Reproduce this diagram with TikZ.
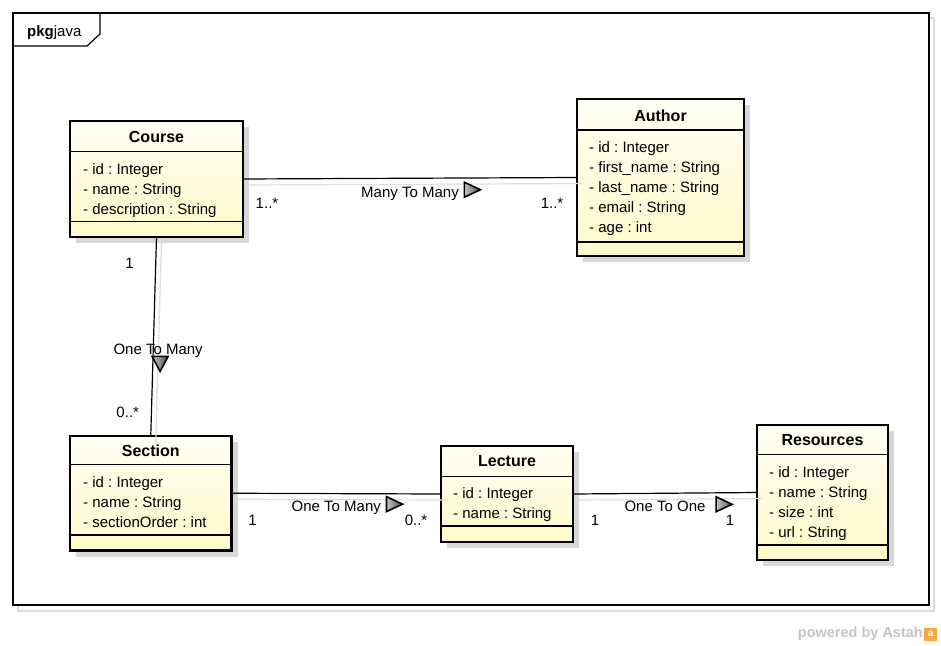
\documentclass[tikz,border=0pt]{standalone}
\usepackage{fontspec}
\setmainfont{Liberation Sans}
\usetikzlibrary{positioning,shadows}
\frenchspacing

\definecolor{classtop}{RGB}{255,255,243}
\definecolor{classbottom}{RGB}{255,250,202}
\definecolor{shadowgray}{RGB}{216,216,216}
\definecolor{linkshadow}{RGB}{222,222,222}
\definecolor{astahgray}{RGB}{196,196,196}
\definecolor{astahorange}{RGB}{248,168,64}

\newcommand{\umlfont}{\fontsize{15}{20}\selectfont\frenchspacing}

\tikzstyle{umlclass} = [draw, line width=2.5pt, outer sep=0pt, inner sep=0pt, anchor=north west, top color=classtop, bottom color=classbottom, drop shadow={shadow xshift=6pt, shadow yshift=-6pt, fill=shadowgray, opacity=1}]
\tikzstyle{ctitle} = [font=\fontsize{16}{20}\selectfont\bfseries]
\tikzstyle{cattrs} = [font=\umlfont, align=left, anchor=north west, inner sep=0pt]
\tikzstyle{compline} = [line width=1.2pt]
\tikzstyle{frame} = [line width=1.2pt]
\tikzstyle{assoc} = [line width=1.2pt]
\tikzstyle{assoc_shadow} = [line width=1.2pt, linkshadow, transform canvas={shift={(5pt,-6pt)}}]
\tikzstyle{alabel} = [font=\umlfont, inner sep=0pt, anchor=base]
\tikzstyle{mult} = [font=\umlfont, inner sep=0pt, anchor=base]
\tikzstyle{navtri} = [draw, line width=1.6pt, line join=miter, left color=gray!45, right color=black!70]

\begin{document}
\begin{tikzpicture}[x=1pt, y=-1pt]
    \useasboundingbox (0,0) rectangle (941,645);

    % package frame
    \draw[linkshadow, line width=1.2pt] (18,18) rectangle (934,611);
    \draw[frame, fill=white] (13,13) rectangle (929,605);
    \draw[frame] (100,13) -- (100,34) -- (87,46) -- (13,46);
    \node[font=\umlfont, anchor=base west, inner sep=0pt] (pkg) at (27,36) {\textbf{pkg}java};

    % classes
    \node[umlclass, minimum width=173pt, minimum height=116pt] (course) at (70,121) {};
    \draw[compline] ([yshift=-30.5pt]course.north west) -- ([yshift=-30.5pt]course.north east);
    \draw[compline] ([yshift=-100.5pt]course.north west) -- ([yshift=-100.5pt]course.north east);
    \node[ctitle] (course_title) at ([yshift=-15.5pt]course.north) {Course};
    \node[cattrs] (course_attrs) at ([xshift=13pt, yshift=-42pt]course.north west) {- id : Integer\\- name : String\\- description : String};

    \node[umlclass, minimum width=167pt, minimum height=157pt] (author) at (577,99) {};
    \draw[compline] ([yshift=-31pt]author.north west) -- ([yshift=-31pt]author.north east);
    \draw[compline] ([yshift=-143pt]author.north west) -- ([yshift=-143pt]author.north east);
    \node[ctitle] (author_title) at ([yshift=-17pt]author.north) {Author};
    \node[cattrs] (author_attrs) at ([xshift=12pt, yshift=-42.5pt]author.north west) {- id : Integer\\- first\_name : String\\- last\_name : String\\- email : String\\- age : int};

    \node[umlclass, minimum width=161.5pt, minimum height=114.5pt] (section) at (70,436) {};
    \draw[compline] ([yshift=-28.5pt]section.north west) -- ([yshift=-28.5pt]section.north east);
    \draw[compline] ([yshift=-99pt]section.north west) -- ([yshift=-99pt]section.north east);
    \node[ctitle] (section_title) at ([yshift=-15pt]section.north) {Section};
    \node[cattrs] (section_attrs) at ([xshift=13pt, yshift=-40pt]section.north west) {- id : Integer\\- name : String\\- sectionOrder : int};

    \node[umlclass, minimum width=132pt, minimum height=96pt] (lecture) at (441,446) {};
    \draw[compline] ([yshift=-30.5pt]lecture.north west) -- ([yshift=-30.5pt]lecture.north east);
    \draw[compline] ([yshift=-80pt]lecture.north west) -- ([yshift=-80pt]lecture.north east);
    \node[ctitle] (lecture_title) at ([yshift=-15.5pt]lecture.north) {Lecture};
    \node[cattrs] (lecture_attrs) at ([xshift=12pt, yshift=-41pt]lecture.north west) {- id : Integer\\- name : String};

    \node[umlclass, minimum width=131pt, minimum height=135pt] (resources) at (757,425) {};
    \draw[compline] ([yshift=-29.5pt]resources.north west) -- ([yshift=-29.5pt]resources.north east);
    \draw[compline] ([yshift=-120pt]resources.north west) -- ([yshift=-120pt]resources.north east);
    \node[ctitle] (resources_title) at ([yshift=-15pt]resources.north) {Resources};
    \node[cattrs] (resources_attrs) at ([xshift=12pt, yshift=-41.5pt]resources.north west) {- id : Integer\\- name : String\\- size : int\\- url : String};

    % associations
    \draw[assoc_shadow] (course.east) -- (author.west);
    \draw[assoc_shadow] (course.south) -- (section.north);
    \draw[assoc_shadow] (section.east) -- (lecture.west);
    \draw[assoc_shadow] (lecture.east) -- (resources.west);

    \draw[assoc] (course.east) -- node[alabel, midway, yshift=-19pt] (ca_label) {Many To Many} (author.west);
    \draw[assoc] (course.south) -- node[alabel, pos=0.59, xshift=5pt] (cs_label) {One To Many} (section.north);
    \draw[assoc] (section.east) -- node[alabel, midway, yshift=-18pt] (sl_label) {One To Many} (lecture.west);
    \draw[assoc] (lecture.east) -- node[alabel, midway, yshift=-18.5pt] (lr_label) {One To One} (resources.west);

    \draw[navtri] ([xshift=5pt]ca_label.base east) -- ++(0,-15) -- ++(16,7.5) -- cycle;
    \draw[navtri] ([xshift=-6pt, yshift=-2pt]cs_label.base) -- ++(16,0) -- ++(-8,15) -- cycle;
    \draw[navtri] ([xshift=5pt]sl_label.base east) -- ++(0,-15) -- ++(16,7.5) -- cycle;
    \draw[navtri] ([xshift=10pt]lr_label.base east) -- ++(0,-15) -- ++(16,7.5) -- cycle;

    % multiplicities
    \node[mult] (ca_mult_course) at ([shift={(24,29.5)}]course.east) {1..*};
    \node[mult] (ca_mult_author) at ([shift={(-25,30.5)}]author.west) {1..*};
    \node[mult] (cs_mult_course) at ([shift={(-27,31)}]course.south) {1};
    \node[mult] (cs_mult_section) at ([shift={(-23,-19)}]section.north) {0..*};
    \node[mult] (sl_mult_section) at ([shift={(21,32)}]section.east) {1};
    \node[mult] (sl_mult_lecture) at ([shift={(-25,31)}]lecture.west) {0..*};
    \node[mult] (lr_mult_lecture) at ([shift={(22,31)}]lecture.east) {1};
    \node[mult] (lr_mult_resources) at ([shift={(-27,32.5)}]resources.west) {1};

    % footer
    \node[font=\fontsize{14.5}{16}\selectfont\bfseries, text=astahgray, anchor=base east, inner sep=0pt] (powered) at (923,637) {powered by Astah};
    \node[fill=astahorange, minimum size=13pt, inner sep=0pt, right=1pt of powered, yshift=-1pt, text=white, font=\fontsize{10}{10}\selectfont\bfseries] (astah_logo) {a};
\end{tikzpicture}
\end{document}
